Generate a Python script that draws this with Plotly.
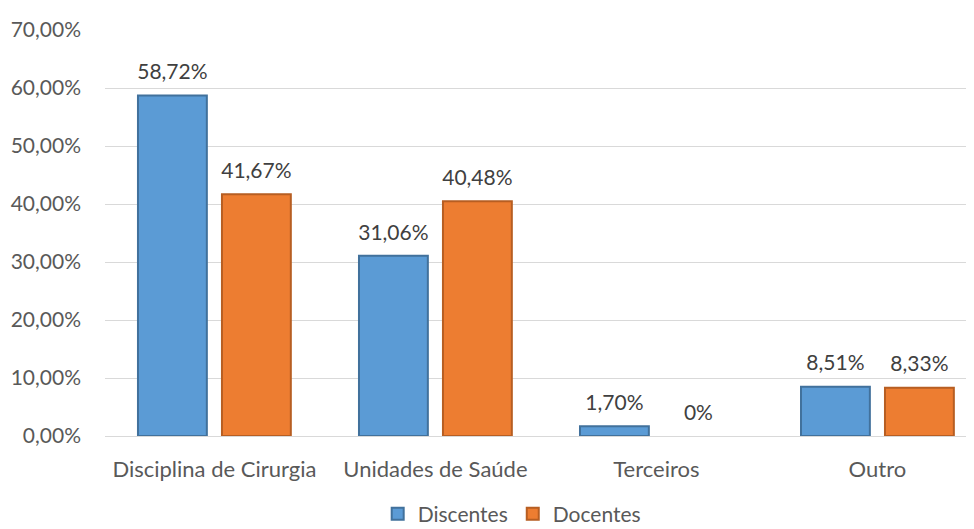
import plotly.graph_objs as go

categories = ['Disciplina de Cirurgia', 'Unidades de Saúde', 'Terceiros', 'Outro']
discentes = [58.72, 31.06, 1.70, 8.51]
docentes = [41.67, 40.48, 0, 8.33]
y_ticks = [0, 10, 20, 30, 40, 50, 60, 70]

BLUE = '#5B9BD5'
BLUE_EDGE = '#41719C'
ORANGE = '#ED7D31'
ORANGE_EDGE = '#B75E22'
FONT = 'Lato, Open Sans, sans-serif'


def pct_label(v):
    if v == 0:
        return '0%'
    return f"{v:.2f}".replace('.', ',') + '%'


gos = []
series = [
    ('Discentes', discentes, BLUE, BLUE_EDGE),
    ('Docentes', docentes, ORANGE, ORANGE_EDGE),
]
for idx, (name, values, color, edge) in enumerate(series):
    bar_go = go.Bar(
        x=categories,
        y=values,
        name=name,
        offsetgroup=str(idx),
        marker=dict(
            color=color,
            # no outline on empty bars
            line=dict(color=edge, width=[2 if v > 0 else 0 for v in values]),
        ),
    )
    gos.append(bar_go)

# value labels, placed with the same grouping as the bars
for idx, (name, values, color, edge) in enumerate(series):
    text_go = go.Scatter(
        x=categories,
        y=values,
        mode='text+markers',
        offsetgroup=str(idx),
        text=[pct_label(v) for v in values],
        textposition='top center',
        textfont=dict(size=21, color='#404040', family=FONT),
        marker=dict(size=16, opacity=0),
        showlegend=False,
        hoverinfo='skip',
        cliponaxis=False,
    )
    gos.append(text_go)

# page body has an 8px margin, so the figure is sized/positioned to compensate
layout = dict(
    template='plotly_white',
    width=966,
    height=521,
    font=dict(family=FONT, color='#595959'),
    barmode='group',
    scattermode='group',
    bargap=0.24,
    bargroupgap=0.18,
    scattergap=0.24,
    showlegend=True,
    legend=dict(
        orientation='h',
        x=0.468,
        xanchor='center',
        yref='container',
        y=0.068,
        yanchor='top',
        font=dict(size=21, color='#595959'),
        traceorder='normal',
        itemwidth=30,
    ),
    xaxis=dict(
        range=[-0.495, 3.437],
        showgrid=False,
        showline=True,
        linecolor='#D9D9D9',
        linewidth=1,
        tickfont=dict(size=22, color='#595959'),
        ticklabelstandoff=14,
    ),
    yaxis=dict(
        range=[0, 70],
        tickvals=y_ticks,
        ticktext=[f"{v:.2f}".replace('.', ',') + '%' for v in y_ticks],
        gridcolor='#D9D9D9',
        gridwidth=1,
        zeroline=False,
        showline=False,
        tickfont=dict(size=21, color='#595959'),
        ticklabelstandoff=23,
    ),
    plot_bgcolor='white',
    paper_bgcolor='white',
    margin=dict(l=97, r=0, t=22, b=93, autoexpand=False),
)

fig = go.Figure(data=gos, layout=layout)
fig.write_html("out.html")
